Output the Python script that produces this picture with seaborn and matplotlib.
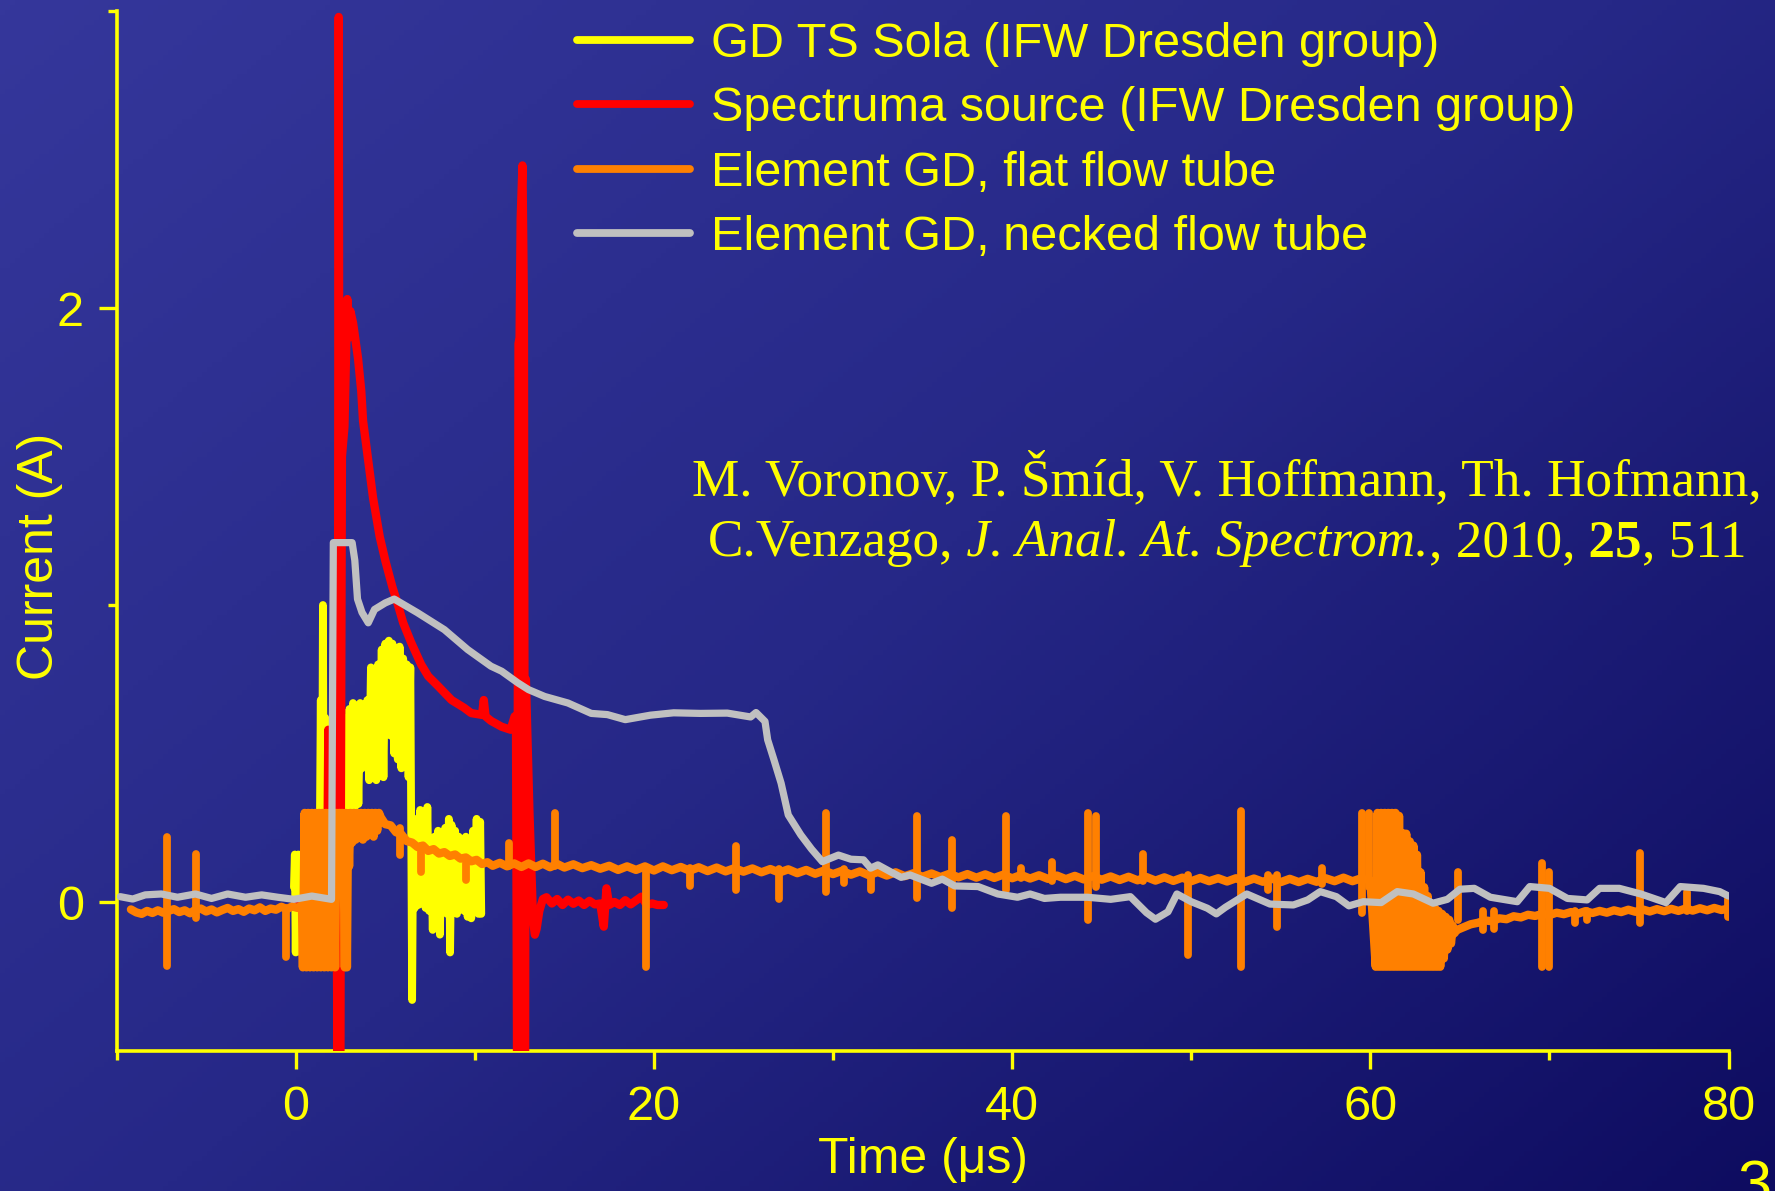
import numpy as np
import pandas as pd
import matplotlib
matplotlib.use("Agg")
import matplotlib.pyplot as plt
import seaborn as sns
from matplotlib.lines import Line2D
from matplotlib.colors import LinearSegmentedColormap
from matplotlib.offsetbox import TextArea, HPacker, AnnotationBbox

# ---------------------------------------------------------------- data
# GD TS Sola (IFW Dresden group)
sola_t = [-0.10, -0.05, 0.00, 0.05, 0.10, 0.15, 0.20, 0.25, 0.30, 0.40, 0.50, 0.60,
          0.70, 0.80, 0.90, 1.00, 1.10, 1.20, 1.30, 1.40, 1.45, 1.52, 1.58, 1.65,
          1.75, 1.85, 1.95, 2.05, 2.15, 2.25, 2.35, 2.45, 2.55, 2.65, 2.75, 2.80,
          2.90, 3.00, 3.10, 3.20, 3.30, 3.40, 3.50, 3.60, 3.70, 3.80, 3.90, 4.00,
          4.10, 4.20, 4.30, 4.40, 4.50, 4.60, 4.70, 4.80, 4.90, 5.00, 5.10, 5.20,
          5.30, 5.40, 5.50, 5.60, 5.70, 5.80, 5.90, 6.00, 6.10, 6.20, 6.30, 6.40,
          6.50, 6.55, 6.65, 6.75, 6.85, 6.95, 7.05, 7.15, 7.25, 7.35, 7.45, 7.55,
          7.65, 7.75, 7.85, 7.95, 8.05, 8.15, 8.25, 8.35, 8.45, 8.55, 8.62, 8.70,
          8.80, 8.90, 9.00, 9.10, 9.20, 9.30, 9.40, 9.50, 9.60, 9.70, 9.80, 9.90,
          10.00, 10.10, 10.20, 10.30, 10.36]
sola_i = [0.05, 0.16, -0.17, 0.15, -0.16, 0.16, -0.15, 0.14, -0.17, 0.12, -0.15, 0.15,
          -0.14, 0.13, -0.16, 0.14, -0.15, 0.15, -0.14, 0.68, -0.17, 1.00, -0.16, 0.62,
          -0.12, 0.20, -0.10, 0.22, -0.12, 0.25, -0.10, 0.30, 0.05, 0.40, 0.10, 0.62,
          0.31, 0.65, 0.31, 0.67, 0.32, 0.66, 0.33, 0.67, 0.45, 0.66, 0.46, 0.68,
          0.41, 0.79, 0.43, 0.78, 0.41, 0.80, 0.46, 0.85, 0.42, 0.87, 0.57, 0.88,
          0.56, 0.87, 0.50, 0.82, 0.48, 0.86, 0.45, 0.82, 0.47, 0.80, 0.42, 0.79,
          -0.33, 0.15, -0.02, 0.28, -0.01, 0.31, 0.00, 0.30, -0.02, 0.32, -0.03, 0.21,
          -0.094, 0.22, -0.03, 0.24, -0.11, 0.22, -0.02, 0.25, -0.04, 0.28, -0.17, 0.26,
          -0.03, 0.24, -0.04, 0.22, -0.01, 0.19, -0.03, 0.22, -0.05, 0.20, -0.055, 0.24,
          -0.03, 0.28, -0.04, 0.27, -0.04]

# Spectruma source (IFW Dresden group)
spectruma_t = [0.00, 0.50, 1.00, 1.50, 1.75, 1.82, 1.92, 2.05, 2.28, 2.34, 2.40, 2.48,
               2.58, 2.72, 2.88, 2.95, 3.05, 3.20, 3.48, 3.66, 3.76, 4.04, 4.32, 4.69,
               5.00, 5.40, 5.71, 6.00, 6.45, 7.00, 7.40, 7.90, 8.70, 9.40, 9.80, 10.40,
               10.50, 10.60, 10.90, 11.50, 12.00, 12.22, 12.30, 12.36, 12.44, 12.50,
               12.56, 12.66, 12.74, 12.80, 12.85, 13.05, 13.25, 13.35, 13.45, 13.60,
               13.80, 14.00, 14.30, 14.60, 14.90, 15.20, 15.50, 15.80, 16.10, 16.40,
               16.70, 17.00, 17.20, 17.35, 17.50, 17.80, 18.10, 18.40, 18.70, 19.00,
               19.30, 19.60, 19.90, 20.20, 20.55]
spectruma_i = [0.00, -0.01, 0.01, 0.00, 0.00, 0.58, 0.05, 0.00, 0.00, -0.55, 2.98, -0.55,
               1.50, 1.60, 2.03, 1.90, 1.99, 1.95, 1.83, 1.72, 1.62, 1.49, 1.36, 1.23,
               1.15, 1.06, 1.00, 0.94, 0.873, 0.80, 0.76, 0.73, 0.68, 0.654, 0.636, 0.63,
               0.68, 0.625, 0.61, 0.59, 0.58, 0.625, 0.60, -0.55, 1.88, 1.90,
               2.30, 2.48, 2.00, -0.55, 0.75, 0.30, -0.06, -0.11, -0.09, -0.03,
               0.01, 0.016, -0.005, 0.01, -0.01, 0.008, -0.006, 0.005, -0.01, 0.004,
               -0.008, -0.005, -0.083, 0.046, -0.01, 0.00, -0.01, 0.006, -0.008, 0.005,
               0.018, -0.01, -0.005, -0.01, -0.01]

# Element GD, flat flow tube: continuous trace
flat_t = [-9.2, -8.9, -8.6, -8.3, -8.0, -7.7, -7.4, -7.1, -6.8, -6.5, -6.2, -5.9,
          -5.6, -5.3, -5.0, -4.7, -4.4, -4.1, -3.8, -3.5, -3.2, -2.9, -2.6, -2.3,
          -2.0, -1.7, -1.4, -1.1, -0.8, -0.5, -0.2, 0.1, 0.35,
          0.40, 0.50, 0.60, 0.70, 0.80, 0.90, 1.00, 1.10, 1.20, 1.30, 1.40, 1.50,
          1.60, 1.70, 1.80, 1.90, 2.00, 2.10, 2.20, 2.28,
          2.36, 2.44, 2.52, 2.60, 2.68, 2.74, 2.80, 2.86, 2.92, 2.98,
          3.05, 3.15, 3.25, 3.35, 3.45, 3.55, 3.65, 3.75, 3.85, 3.95, 4.05, 4.15,
          4.25, 4.35, 4.45, 4.55, 4.65,
          4.75, 5.0, 5.3, 5.6, 5.9, 6.2, 6.5, 6.8, 7.1, 7.4, 7.7, 8.0, 8.3, 8.6,
          8.9, 9.2, 9.5, 9.8, 10.1, 10.4, 10.7, 11.0, 11.4, 11.8, 12.2, 12.6, 13.0,
          13.4, 13.8, 14.2, 14.6, 15.0, 15.5, 16.0, 16.5, 17.0, 17.5, 18.0, 18.5,
          19.0, 19.5, 20.0, 20.5, 21.0, 21.5, 22.0, 22.5, 23.0, 23.5, 24.0, 24.5,
          25.0, 25.5, 26.0, 26.5, 27.0, 27.5, 28.0, 28.5, 29.0, 29.5, 30.0, 30.5,
          31.0, 31.5, 32.0, 32.5, 33.0, 33.5, 34.0, 34.5, 35.0, 35.5, 36.0, 36.5,
          37.0, 37.5, 38.0, 38.5, 39.0, 39.5, 40.0, 40.5, 41.0, 41.5, 42.0, 42.5,
          43.0, 43.5, 44.0, 44.5, 45.0, 45.5, 46.0, 46.5, 47.0, 47.5, 48.0, 48.5,
          49.0, 49.5, 50.0, 50.5, 51.0, 51.5, 52.0, 52.5, 53.0, 53.5, 54.0, 54.5,
          55.0, 55.5, 56.0, 56.5, 57.0, 57.5, 58.0, 58.5, 59.0, 59.5, 60.0,
          60.3, 60.4, 60.5, 60.6, 60.7, 60.8, 60.9, 61.0, 61.1, 61.2, 61.3, 61.4,
          61.5, 61.6, 61.7, 61.8, 61.9, 62.0, 62.1, 62.2, 62.3, 62.4, 62.5, 62.6,
          62.7, 62.8, 62.9, 63.0, 63.1, 63.2, 63.3, 63.4, 63.5, 63.6, 63.7, 63.8,
          63.9, 64.0, 64.1, 64.2, 64.3, 64.4, 64.5, 64.6, 64.7,
          64.8, 65.2, 65.6, 66.0, 66.4, 66.8, 67.2, 67.6, 68.0, 68.4, 68.8, 69.2,
          69.6, 70.0, 70.4, 70.8, 71.2, 71.6, 72.0, 72.4, 72.8, 73.2, 73.6, 74.0,
          74.4, 74.8, 75.2, 75.6, 76.0, 76.4, 76.8, 77.2, 77.6, 78.0, 78.4, 78.8,
          79.2, 79.6, 80.0]
flat_i = [-0.025, -0.035, -0.040, -0.030, -0.037, -0.028, -0.036, -0.030, -0.024, -0.034, -0.028, -0.038,
          -0.026, -0.022, -0.032, -0.025, -0.035, -0.027, -0.020, -0.030, -0.024, -0.033, -0.022, -0.028,
          -0.018, -0.030, -0.022, -0.026, -0.016, -0.024, -0.015, -0.020, -0.010,
          -0.22, 0.30, -0.22, 0.30, -0.22, 0.30, -0.22, 0.30, -0.22, 0.30, -0.22, 0.30,
          -0.22, 0.30, -0.22, 0.30, -0.22, 0.30, -0.22, 0.30,
          0.16, 0.30, 0.15, 0.30, 0.14, -0.22, 0.30, -0.22, 0.28, 0.12,
          0.30, 0.20, 0.30, 0.21, 0.30, 0.22, 0.30, 0.21, 0.30, 0.22, 0.30, 0.23,
          0.30, 0.22, 0.30, 0.24, 0.30,
          0.285, 0.262, 0.258, 0.235, 0.228, 0.205, 0.200, 0.185, 0.190, 0.172, 0.178, 0.163, 0.168, 0.155,
          0.160, 0.146, 0.150, 0.137, 0.142, 0.128, 0.134, 0.122, 0.132, 0.120, 0.130, 0.118, 0.130,
          0.118, 0.129, 0.117, 0.128, 0.116, 0.127, 0.114, 0.124, 0.112, 0.122, 0.108, 0.120,
          0.108, 0.120, 0.106, 0.120, 0.107, 0.118, 0.105, 0.117, 0.104, 0.116, 0.103, 0.114,
          0.102, 0.113, 0.100, 0.111, 0.099, 0.110, 0.097, 0.108, 0.095, 0.106, 0.094, 0.105,
          0.092, 0.103, 0.090, 0.101, 0.089, 0.100, 0.087, 0.097, 0.085, 0.096, 0.084, 0.095,
          0.083, 0.094, 0.082, 0.093, 0.081, 0.092, 0.080, 0.091, 0.079, 0.090, 0.078, 0.089,
          0.077, 0.088, 0.076, 0.087, 0.075, 0.086, 0.074, 0.085, 0.073, 0.084, 0.072, 0.083,
          0.071, 0.082, 0.070, 0.081, 0.070, 0.080, 0.069, 0.080, 0.068, 0.079, 0.068, 0.079,
          0.067, 0.078, 0.067, 0.078, 0.068, 0.080, 0.070, 0.082, 0.070, 0.080, 0.072,
          -0.218, 0.30, -0.218, 0.30, -0.218, 0.30, -0.218, 0.30, -0.218, 0.30, -0.218, 0.30,
          -0.218, 0.29, -0.218, 0.232, -0.218, 0.23, -0.218, 0.204, -0.218, 0.19, -0.218, 0.159,
          -0.218, 0.10, -0.218, 0.05, -0.218, 0.02, -0.218, -0.01, -0.218, -0.02, -0.218, -0.03,
          -0.218, -0.04, -0.19, -0.05, -0.16, -0.06, -0.14, -0.08, -0.105,
          -0.095, -0.085, -0.075, -0.070, -0.062, -0.065, -0.055, -0.058, -0.048, -0.052, -0.043, -0.047,
          -0.040, -0.044, -0.036, -0.041, -0.034, -0.039, -0.031, -0.037, -0.030, -0.036, -0.028, -0.034,
          -0.026, -0.033, -0.025, -0.032, -0.024, -0.031, -0.023, -0.030, -0.022, -0.029, -0.021, -0.028,
          -0.020, -0.027, -0.022]

# Element GD, flat flow tube: isolated spikes (time, top, bottom)
flat_spike_t = [-7.2, -5.55, -0.57, 5.83, 7.0, 9.52, 11.9, 14.45, 19.55, 22.0, 24.6,
                27.0, 29.6, 30.6, 32.1, 34.7, 36.65, 39.65, 40.5, 42.2, 44.25, 44.7,
                47.3, 49.8, 52.75, 54.3, 54.8, 57.3, 59.55, 59.9, 64.9, 66.3, 66.9,
                69.6, 69.95, 71.4, 72.1, 75.05, 77.65, 79.95]
flat_spike_hi = [0.22, 0.16, -0.02, 0.25, 0.19, 0.13, 0.198, 0.30, 0.115, 0.115, 0.19,
                 0.11, 0.30, 0.11, 0.11, 0.29, 0.21, 0.29, 0.115, 0.136, 0.30, 0.29,
                 0.16, 0.09, 0.305, 0.09, 0.09, 0.113, 0.30, 0.30, 0.10, -0.03, -0.03,
                 0.13, 0.10, -0.03, -0.03, 0.164, 0.035, 0.01]
flat_spike_lo = [-0.216, -0.055, -0.184, 0.158, 0.10, 0.074, 0.12, 0.12, -0.218, 0.055, 0.04,
                 0.01, 0.035, 0.065, 0.04, 0.012, -0.02, 0.04, 0.08, 0.07, -0.06, 0.05,
                 0.07, -0.18, -0.218, 0.04, -0.085, 0.06, -0.038, 0.05, -0.06, -0.095, -0.09,
                 -0.218, -0.218, -0.07, -0.06, -0.072, -0.03, -0.05]

# Element GD, necked flow tube
necked_t = [-9.8, -9.1, -8.4, -7.5, -6.6, -5.6, -4.7, -3.8, -2.8, -1.9, -1.0, -0.1,
            0.9, 2.0, 2.1, 3.15, 3.3, 3.45, 3.7, 4.05, 4.4, 5.0, 5.5, 6.8, 8.3, 9.6,
            10.9, 11.5, 12.4, 13.0, 13.9, 15.2, 16.5, 17.4, 18.4, 19.8, 21.1, 22.6,
            24.1, 25.4, 25.7, 26.2, 26.35, 26.7, 27.1, 27.5, 28.2, 28.8, 29.4, 30.3,
            31.0, 31.7, 32.1, 32.5, 33.2, 33.8, 34.3, 35.5, 36.1, 36.8, 38.1, 39.2,
            40.3, 41.0, 41.8, 42.7, 44.2, 45.5, 46.6, 47.5, 48.0, 48.7, 49.2, 50.0,
            50.9, 51.4, 51.9, 53.1, 54.4, 55.7, 56.5, 57.2, 58.1, 58.8, 59.6, 60.6,
            61.5, 62.4, 63.5, 64.3, 65.0, 65.8, 66.7, 68.2, 68.9, 70.0, 71.0, 72.1,
            72.8, 73.9, 75.1, 76.5, 77.3, 78.6, 79.5, 80.0]
necked_i = [0.018, 0.010, 0.024, 0.027, 0.016, 0.027, 0.012, 0.027, 0.016, 0.024, 0.016, 0.009,
            0.020, 0.009, 1.21, 1.21, 1.15, 1.02, 0.975, 0.94, 0.985, 1.007, 1.02, 0.974, 0.917, 0.85,
            0.794, 0.777, 0.738, 0.715, 0.692, 0.670, 0.635, 0.631, 0.614, 0.629, 0.637, 0.635,
            0.636, 0.623, 0.638, 0.608, 0.546, 0.479, 0.400, 0.293, 0.226, 0.178, 0.136, 0.158,
            0.144, 0.142, 0.114, 0.125, 0.102, 0.083, 0.091, 0.063, 0.077, 0.054, 0.052, 0.027,
            0.016, 0.027, 0.012, 0.016, 0.016, 0.009, 0.018, -0.036, -0.058, -0.033, 0.027, 0.001,
            -0.021, -0.040, -0.018, 0.027, -0.007, -0.010, 0.007, 0.035, 0.018, -0.013, 0.001, -0.002,
            0.035, 0.027, -0.004, 0.009, 0.043, 0.046, 0.016, 0.001, 0.052, 0.046, 0.012, 0.007,
            0.046, 0.046, 0.027, -0.002, 0.052, 0.046, 0.035, 0.020]

series_labels = ["GD TS Sola (IFW Dresden group)",
                 "Spectruma source (IFW Dresden group)",
                 "Element GD, flat flow tube",
                 "Element GD, necked flow tube"]
x_major = [0, 20, 40, 60, 80]
x_minor = [-10, 10, 30, 50, 70]
y_major = [0, 2]
y_minor = [1, 3]

# ---------------------------------------------------------------- style
YELLOW = "#ffff00"
RED = "#ff0000"
ORANGE = "#ff8000"
GREY = "#c0c0c0"

sns.set_style("ticks")
plt.rcParams["font.family"] = ["Liberation Sans", "DejaVu Sans"]

W, H = 1775, 1191
fig = plt.figure(figsize=(W / 100, H / 100), dpi=100)

# slide background: diagonal blue gradient
bg = fig.add_axes([0, 0, 1, 1], zorder=-10)
gy, gx = np.mgrid[0:1:240j, 0:1:360j]
grad = 0.55 * gx + 0.45 * gy
bg_cmap = LinearSegmentedColormap.from_list("slide", ["#35379b", "#262887", "#0e0c60"])
bg.imshow(grad, cmap=bg_cmap, aspect="auto", extent=(0, 1, 0, 1), origin="upper")
bg.set_axis_off()

left, right, top, bottom = 116.6, 1728.6, 11.0, 1050.5
ax = fig.add_axes([left / W, 1 - bottom / H, (right - left) / W, (bottom - top) / H])
ax.set_facecolor("none")

line_kw = dict(estimator=None, sort=False, ax=ax, legend=False,
               solid_capstyle="round", solid_joinstyle="round")
sns.lineplot(x=sola_t, y=sola_i, color=YELLOW, linewidth=5.6, zorder=2, **line_kw)
sns.lineplot(x=spectruma_t, y=spectruma_i, color=RED, linewidth=6.0, zorder=3, **line_kw)
sns.lineplot(x=flat_t, y=flat_i, color=ORANGE, linewidth=6.0, zorder=4, **line_kw)
ax.vlines(flat_spike_t, flat_spike_lo, flat_spike_hi, colors=ORANGE, linewidth=5.6,
          capstyle="round", zorder=4)
sns.lineplot(x=necked_t, y=necked_i, color=GREY, linewidth=5.2, zorder=5, **line_kw)

ax.set_xlim(-10, 80)
ax.set_ylim(-0.5, 3.0)
ax.set_xticks(x_major)
ax.set_xticks(x_minor, minor=True)
ax.set_yticks(y_major)
ax.set_yticks(y_minor, minor=True)
ax.set_xlabel("")
ax.set_ylabel("")
sns.despine(ax=ax)
for side in ("left", "bottom"):
    ax.spines[side].set_color(YELLOW)
    ax.spines[side].set_linewidth(2.6)
ax.tick_params(which="both", direction="out", color=YELLOW, labelcolor=YELLOW, width=2.4)
ax.tick_params(which="major", length=13, labelsize=35)
ax.tick_params(which="minor", length=6.5)
ax.tick_params(axis="x", which="major", pad=11.5)
ax.tick_params(axis="y", which="major", pad=10.5)

fig.text(40 / W, 1 - 556 / H, "Current (A)", rotation=90, ha="center", va="center",
         fontsize=36, color=YELLOW)
fig.text(923 / W, 1 - 1160 / H, "Time (\u03bcs)", ha="center", va="center",
         fontsize=36, color=YELLOW)

handles = [Line2D([], [], color=c, linewidth=5.6) for c in (YELLOW, RED, ORANGE, GREY)]
ax.legend(handles, series_labels, loc="upper left",
          bbox_to_anchor=(577 / W, 1 - 22 / H), bbox_transform=fig.transFigure,
          frameon=False, fontsize=35, labelcolor=YELLOW, handlelength=2.33,
          handletextpad=0.43, labelspacing=0.4, borderpad=0, borderaxespad=0)

# literature reference
serif = dict(color=YELLOW, fontsize=38.3, family="Liberation Serif")
ref_line1 = TextArea("M. Voronov, P. \u0160m\u00edd, V. Hoffmann, Th. Hofmann,", textprops=serif)
ref_parts = [("C.Venzago,", {}), (" J. Anal. At. Spectrom.", {"style": "italic"}),
             (", 2010,", {}), (" 25", {"weight": "bold"}), (", 511", {})]
ref_line2 = HPacker(children=[TextArea(s, textprops={**serif, **extra}) for s, extra in ref_parts],
                    align="baseline", pad=0, sep=0)
for box, ypix in ((ref_line1, 479), (ref_line2, 543)):
    ab = AnnotationBbox(box, (1227 / W, 1 - ypix / H), xycoords="figure fraction",
                        frameon=False, box_alignment=(0.5, 0.5), pad=0)
    ax.add_artist(ab)

# slide number, partly outside the page
fig.text(1738 / W, 1 - 1160 / H, "3", ha="left", va="top", fontsize=44, color=YELLOW)

fig.savefig("out.png", dpi=100)
